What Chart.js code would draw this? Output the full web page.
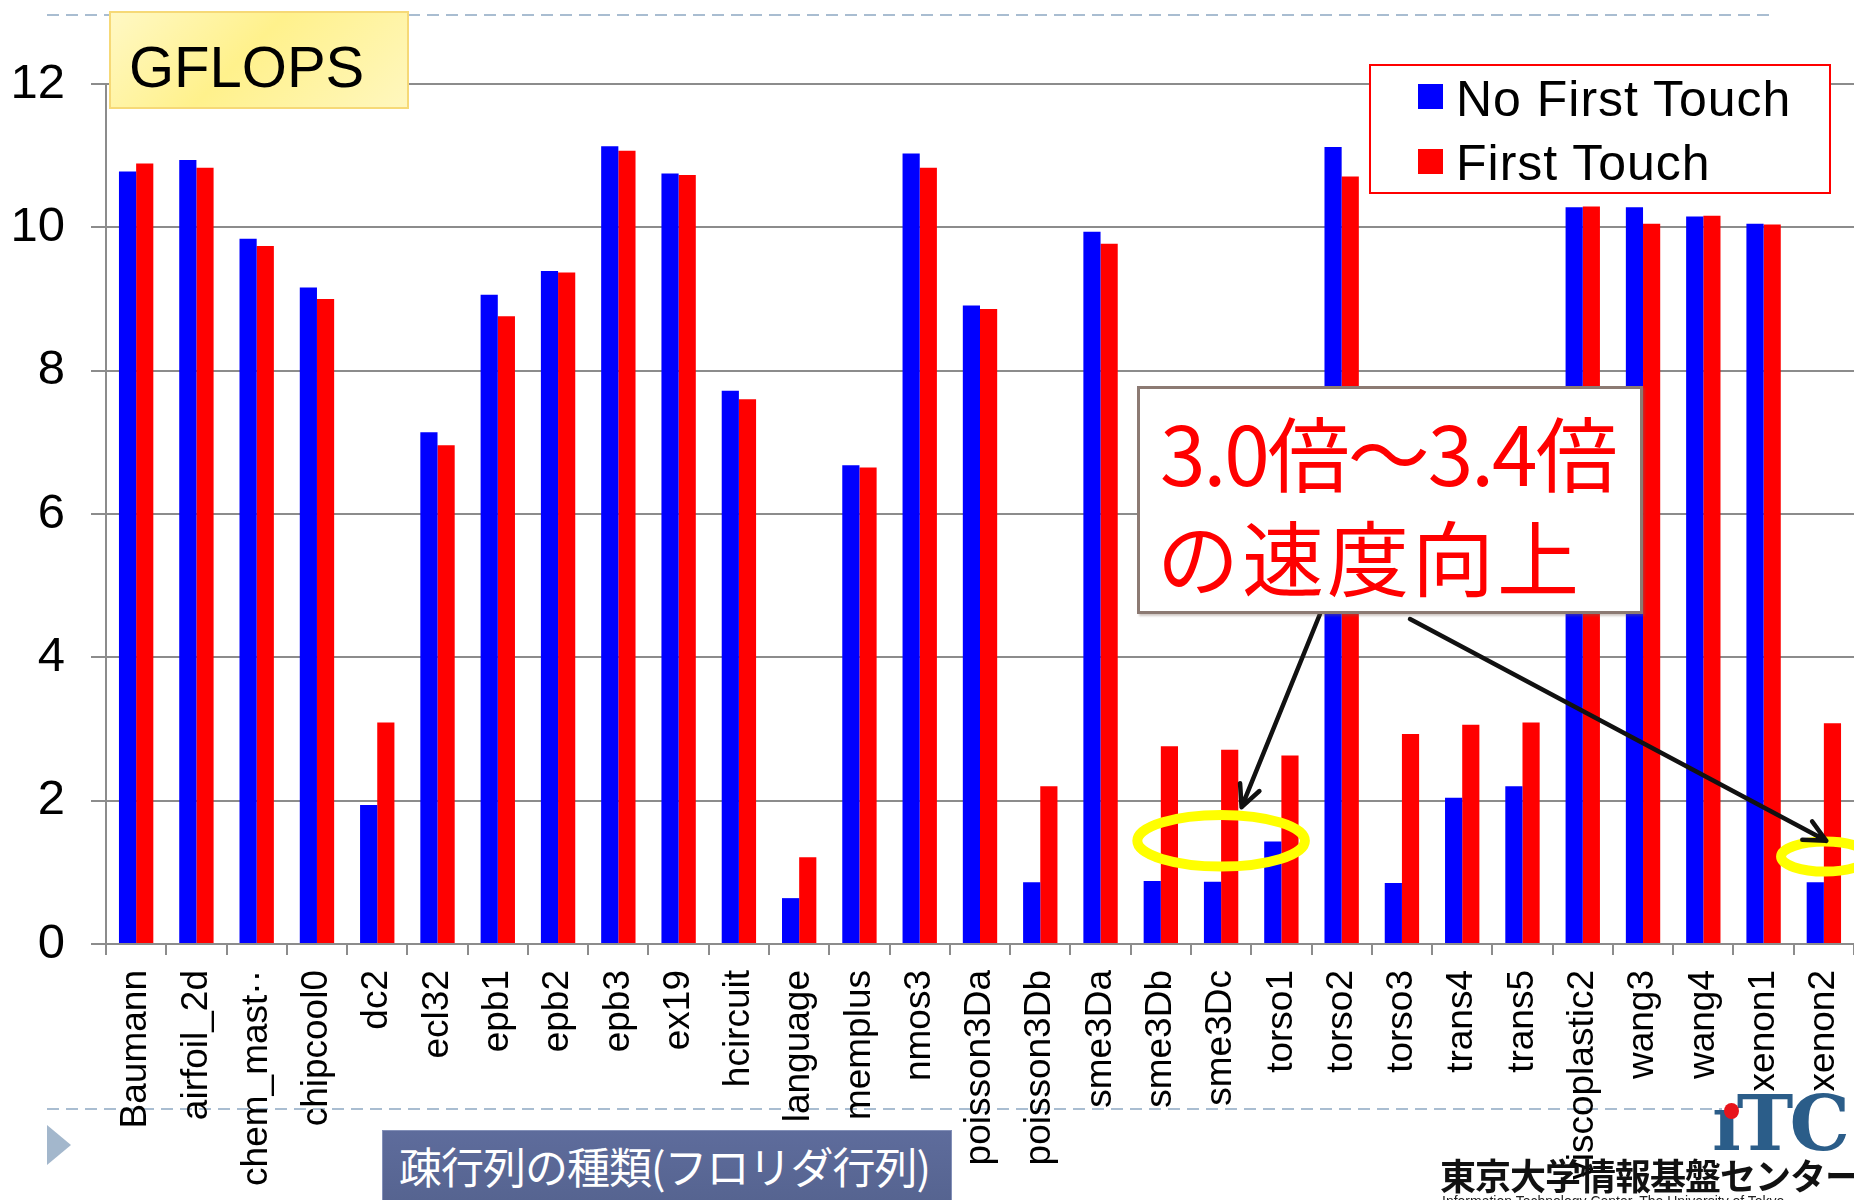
<!DOCTYPE html>
<html>
<head>
<meta charset="utf-8">
<script src="https://cdn.jsdelivr.net/npm/chart.js@4.4.1/dist/chart.umd.min.js"></script>
<style>
html, body { margin: 0; padding: 0; background: #fff; overflow: hidden; }
#stage { position: relative; width: 1854px; height: 1200px; overflow: hidden; font-family: 'Liberation Sans', Arial, sans-serif; }
#deco { position: absolute; left: 0; top: 0; z-index: 0; }
#chart { position: absolute; left: 0; top: 0; z-index: 1; }
.ovl { position: absolute; z-index: 2; }
#gflops { left: 109px; top: 11px; width: 300px; height: 98px; box-sizing: border-box;
  border: 2px solid #f6d977; background: linear-gradient(135deg, #fff8c4 0%, #fff18c 45%, #fff7be 100%); }
#gflops span { position: absolute; left: 18px; top: 25px; font-size: 58px; line-height: 58px; color: #000; }
#legend { left: 1369px; top: 64px; width: 462px; height: 130px; box-sizing: border-box; border: 2px solid #ff0000; background: #fff; }
#legend .sw { position: absolute; left: 47px; width: 25px; height: 25px; }
#legend .tx { position: absolute; left: 85px; font-size: 50px; line-height: 50px; color: #000; white-space: nowrap; letter-spacing: 1px; }
#callout { left: 1137px; top: 386px; width: 506px; height: 228px; box-sizing: border-box; border: 3px solid #8c7a73; background: #fff;
  box-shadow: 2px 2px 2px rgba(120,100,90,0.35); }
#callout div { position: absolute; font-family: 'Noto Sans CJK JP', sans-serif; font-size: 82px; line-height: 82px; color: #ff0000; white-space: nowrap; }
#footer { left: 382px; top: 1130px; width: 570px; height: 80px; box-sizing: border-box; border: 1px solid #8390b8;
  background: linear-gradient(180deg, #5e6c9c 0%, #55638f 100%); }
#footer span { position: absolute; left: 16px; top: 13px; font-family: 'Noto Sans CJK JP', sans-serif; font-size: 43px; line-height: 43px; color: #fff; white-space: nowrap; letter-spacing: -1px; }
#logo { left: 1712px; top: 1086px; font-family: 'DejaVu Serif', serif; font-weight: bold; font-size: 76px; line-height: 76px; color: #2b5d89; letter-spacing: -4px; }
#logodot { left: 1724px; top: 1103px; width: 15px; height: 16px; border-radius: 50%; background: #e8141b; }
#itc { left: 1440px; top: 1156px; font-family: 'Noto Sans CJK JP', sans-serif; font-weight: bold; font-size: 36px; line-height: 36px; color: #111; white-space: nowrap; letter-spacing: -1px; }
#itcen { left: 1442px; top: 1194px; font-size: 14px; line-height: 14px; color: #222; white-space: nowrap; }
</style>
</head>
<body>
<div id="stage">
  <svg id="deco" width="1854" height="1200">
    <line x1="47" y1="15" x2="1774" y2="15" stroke="#a9bdd1" stroke-width="2" stroke-dasharray="12 7"/>
    <line x1="47" y1="1109" x2="1722" y2="1109" stroke="#a9bdd1" stroke-width="2" stroke-dasharray="12 7"/>
    <polygon points="47,1125 71,1145 47,1165" fill="#a3b7cc"/>
  </svg>
  <canvas id="chart" width="1854" height="1200"></canvas>
  <div id="gflops" class="ovl"><span>GFLOPS</span></div>
  <div id="legend" class="ovl"></div>
  <div id="callout" class="ovl">
    <div style="left:20px; top:21px; letter-spacing:-2px">3.0倍～3.4倍</div>
    <div style="left:17px; top:125px; letter-spacing:3px">の速度向上</div>
  </div>
  <div id="footer" class="ovl"><span>疎行列の種類(フロリダ行列)</span></div>
  <div id="logo" class="ovl">ıTC</div>
  <div id="logodot" class="ovl"></div>
  <div id="itc" class="ovl">東京大学情報基盤センター</div>
  <div id="itcen" class="ovl">Information Technology Center, The University of Tokyo</div>
</div>
<script>
// sparse matrices (Florida collection)
const categories = ['Baumann', 'airfoil_2d', 'chem_mast··', 'chipcool0', 'dc2', 'ecl32', 'epb1', 'epb2', 'epb3', 'ex19',
  'hcircuit', 'language', 'memplus', 'nmos3', 'poisson3Da', 'poisson3Db', 'sme3Da', 'sme3Db', 'sme3Dc', 'torso1',
  'torso2', 'torso3', 'trans4', 'trans5', 'viscoplastic2', 'wang3', 'wang4', 'xenon1', 'xenon2'];

// GFLOPS
const noFirstTouch = [10.78, 10.94, 9.84, 9.16, 1.94, 7.14, 9.06, 9.39, 11.13, 10.75,
  7.72, 0.64, 6.68, 11.03, 8.91, 0.86, 9.94, 0.88, 0.87, 1.43,
  11.12, 0.85, 2.04, 2.20, 10.28, 10.28, 10.15, 10.05, 0.86];
const firstTouch = [10.89, 10.83, 9.74, 9.00, 3.09, 6.96, 8.76, 9.37, 11.07, 10.73,
  7.60, 1.21, 6.65, 10.83, 8.86, 2.20, 9.77, 2.76, 2.71, 2.63,
  10.71, 2.93, 3.06, 3.09, 10.29, 10.05, 10.16, 10.04, 3.08];

const yMin = 0;
const yMax = 12;
const yStep = 2;

// yellow rings: category index + offset, value, radii (in categories / values)
const rings = [
  { cat: 18, dx: 0.0, val: 1.44, rx: 1.39, ry: 0.36 },
  { cat: 28, dx: 0.02, val: 1.22, rx: 0.73, ry: 0.21 }
];
// arrows from the callout box to the rings
const arrows = [
  { from: [1320, 614], cat: 18, dx: 0.34, val: 1.91 },
  { from: [1410, 619], cat: 28, dx: 0.04, val: 1.44 }
];

const gridGray = '#8c8c8c';

const calloutPlugin = {
  id: 'callout',
  afterDatasetsDraw(chart) {
    const { ctx, scales: { x, y } } = chart;
    const cw = x.getPixelForValue(1) - x.getPixelForValue(0);
    const uy = y.getPixelForValue(0) - y.getPixelForValue(1);
    ctx.save();
    ctx.strokeStyle = '#ffff00';
    ctx.lineWidth = 10;
    rings.forEach(r => {
      ctx.beginPath();
      ctx.ellipse(x.getPixelForValue(r.cat) + r.dx * cw, y.getPixelForValue(r.val), r.rx * cw, r.ry * uy, 0, 0, Math.PI * 2);
      ctx.stroke();
    });
    ctx.strokeStyle = '#111';
    ctx.lineWidth = 4.5;
    ctx.lineCap = 'round';
    arrows.forEach(a => {
      const x0 = a.from[0], y0 = a.from[1];
      const x1 = x.getPixelForValue(a.cat) + a.dx * cw;
      const y1 = y.getPixelForValue(a.val);
      const ang = Math.atan2(y1 - y0, x1 - x0);
      ctx.beginPath();
      ctx.moveTo(x0, y0);
      ctx.lineTo(x1, y1);
      [0.45, -0.45].forEach(d => {
        ctx.moveTo(x1, y1);
        ctx.lineTo(x1 - 24 * Math.cos(ang + d), y1 - 24 * Math.sin(ang + d));
      });
      ctx.stroke();
    });
    ctx.restore();
  }
};

const chart = new Chart(document.getElementById('chart'), {
  type: 'bar',
  data: {
    labels: categories,
    datasets: [
      { label: 'No First Touch', data: noFirstTouch, backgroundColor: '#0000ff', borderWidth: 0 },
      { label: 'First Touch', data: firstTouch, backgroundColor: '#ff0000', borderWidth: 0 }
    ]
  },
  options: {
    responsive: false,
    animation: false,
    devicePixelRatio: 1,
    categoryPercentage: 0.57,
    barPercentage: 1.0,
    layout: { padding: { top: 84, right: 0, left: 0, bottom: 0 } },
    plugins: { legend: { display: false }, tooltip: { enabled: false } },
    scales: {
      x: {
        grid: { drawOnChartArea: false, drawTicks: true, tickLength: 11, color: gridGray, lineWidth: 2, offset: true },
        border: { color: gridGray, width: 2 },
        ticks: { autoSkip: false, minRotation: 90, maxRotation: 90, padding: 15, color: '#000',
          font: { family: "'Liberation Sans', Arial, sans-serif", size: 37 } },
        afterFit(s) { s.height = 256; s.paddingLeft = 0; s.paddingRight = 0; }
      },
      y: {
        min: yMin, max: yMax,
        grid: { color: gridGray, lineWidth: 2, tickLength: 15 },
        border: { color: gridGray, width: 2 },
        ticks: { stepSize: yStep, padding: 26, color: '#000',
          font: { weight: 'condensed', family: "'Liberation Sans Narrow', 'Liberation Sans', sans-serif", size: 49 } },
        afterFit(s) { s.width = 106; }
      }
    }
  },
  plugins: [calloutPlugin]
});

// legend built from the datasets
const legendBox = document.getElementById('legend');
chart.data.datasets.forEach((ds, i) => {
  const sw = document.createElement('div');
  sw.className = 'sw';
  sw.style.top = (18 + i * 65) + 'px';
  sw.style.background = ds.backgroundColor;
  const tx = document.createElement('div');
  tx.className = 'tx';
  tx.style.top = (8 + i * 64) + 'px';
  tx.textContent = ds.label;
  legendBox.appendChild(sw);
  legendBox.appendChild(tx);
});
</script>
</body>
</html>
